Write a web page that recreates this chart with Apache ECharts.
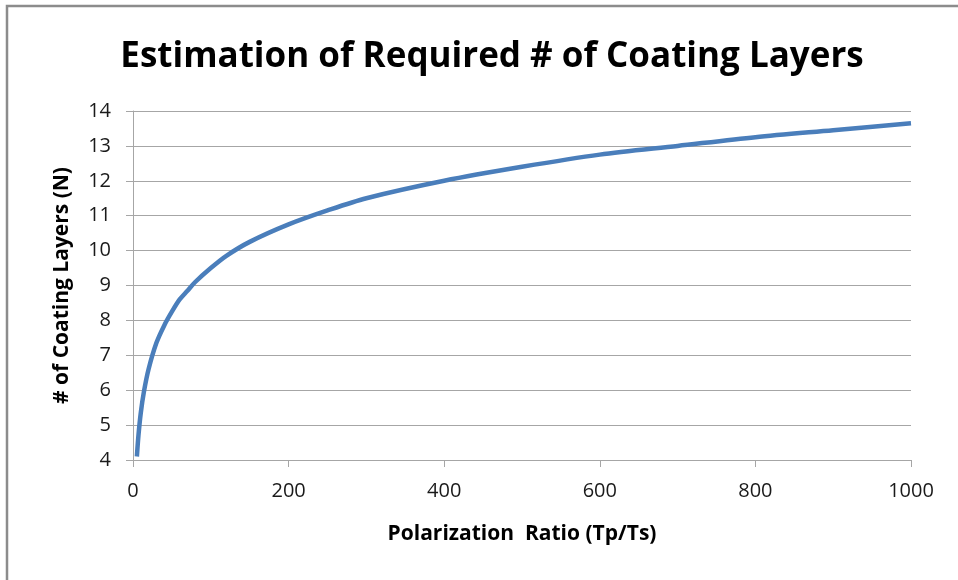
<!DOCTYPE html>
<html>
<head>
<meta charset="utf-8">
<script src="https://cdn.jsdelivr.net/npm/echarts@6/dist/echarts.min.js"></script>
<style>
html, body { margin: 0; padding: 0; background: #fff; }
#chart { width: 958px; height: 580px; }
</style>
</head>
<body>
<div id="chart"></div>
<script>
// values
var ratio = [5, 7, 10, 14, 20, 30, 40, 50, 60, 70, 80, 100, 120, 150, 200, 250, 300, 400, 500, 600, 700, 800, 900, 1000];
var layers = [4.1, 4.7, 5.35, 5.95, 6.6, 7.35, 7.85, 8.25, 8.6, 8.85, 9.1, 9.5, 9.85, 10.25, 10.75, 11.15, 11.5, 12.0, 12.4, 12.75, 13.0, 13.25, 13.45, 13.65];
var xTicks = [0, 200, 400, 600, 800, 1000];
var yTicks = [4, 5, 6, 7, 8, 9, 10, 11, 12, 13, 14];

var font = '"Open Sans", "Noto Sans", sans-serif';
var gray = '#a6a6a6';

var points = ratio.map(function (x, i) { return [x, layers[i]]; });

var myChart = echarts.init(document.getElementById('chart'));
var option = {
    animation: false,
    backgroundColor: '#fff',
    title: {
        text: 'Estimation of Required # of Coating Layers',
        left: 487,
        textAlign: 'center',
        top: 35,
        textStyle: {
            fontFamily: font,
            fontSize: 35,
            fontWeight: 'bold',
            color: '#000'
        }
    },
    graphic: [{
        type: 'polyline',
        shape: { points: [[7, 590], [7, 6], [970, 6]] },
        style: { stroke: '#8c8c8c', lineWidth: 2.5, fill: null },
        silent: true
    }],
    grid: {
        left: 133,
        right: 47,
        top: 111,
        bottom: 120
    },
    xAxis: {
        type: 'value',
        min: xTicks[0],
        max: xTicks[xTicks.length - 1],
        interval: 200,
        name: 'Polarization  Ratio (Tp/Ts)',
        nameLocation: 'middle',
        nameGap: 64,
        nameTextStyle: {
            fontFamily: font,
            fontSize: 21,
            fontWeight: 'bold',
            color: '#000'
        },
        axisLine: { show: true, lineStyle: { color: gray, width: 1 } },
        axisTick: { show: true, length: 7, lineStyle: { color: gray } },
        axisLabel: {
            margin: 21,
            fontFamily: font,
            fontSize: 20,
            color: '#1a1a1a',
            formatter: function (v) { return String(v); }
        },
        splitLine: { show: false }
    },
    yAxis: {
        type: 'value',
        min: yTicks[0],
        max: yTicks[yTicks.length - 1],
        interval: 1,
        name: '# of Coating Layers (N)',
        nameLocation: 'middle',
        nameGap: 60,
        nameTextStyle: {
            fontFamily: font,
            fontSize: 21,
            fontWeight: 'bold',
            color: '#000'
        },
        axisLine: { show: true, lineStyle: { color: gray, width: 1 } },
        axisTick: { show: true, length: 7, lineStyle: { color: gray } },
        axisLabel: {
            margin: 22,
            fontFamily: font,
            fontSize: 20,
            color: '#1a1a1a'
        },
        splitLine: { show: true, lineStyle: { color: gray, width: 1 } }
    },
    series: [{
        type: 'line',
        data: points,
        smooth: 0.3,
        showSymbol: false,
        lineStyle: { color: '#4a7ebb', width: 4.5 }
    }]
};
myChart.setOption(option);
</script>
</body>
</html>
